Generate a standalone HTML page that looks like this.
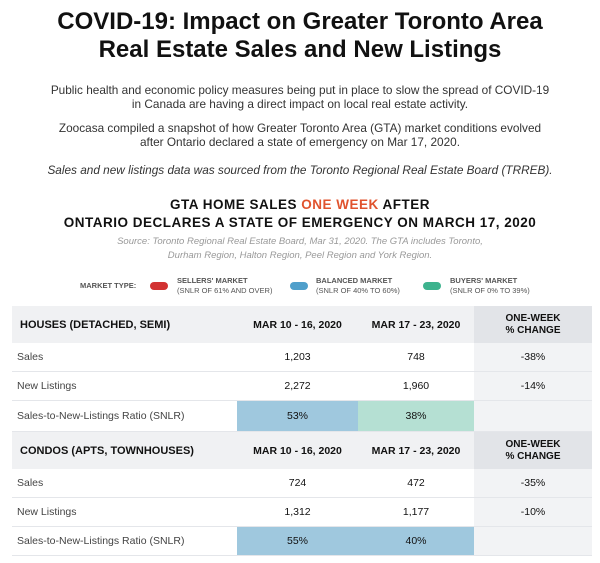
<!DOCTYPE html>
<html><head><meta charset="utf-8"><style>
body{margin:0;width:600px;height:563px;background:#fff;font-family:"Liberation Sans",sans-serif;color:#222;position:relative;overflow:hidden}
.a{position:absolute;left:0;width:600px;text-align:center;white-space:nowrap}
.t{font-weight:bold;font-size:24px;color:#111}
.p{font-size:11.8px;color:#333}
.s{font-weight:bold;font-size:13.5px;color:#111;letter-spacing:0.5px}
.src{font-size:9.5px;color:#999;font-style:italic}
.lg{position:absolute;font-size:7.5px;color:#555;line-height:10px}
.pill{position:absolute;width:18px;height:8px;border-radius:4px}
table{position:absolute;left:12px;top:306px;width:580px;border-collapse:collapse;font-size:10.5px}
td{padding:0;height:28px;border-bottom:1px solid #e4e6ea;text-align:center;color:#111}
td:first-child{text-align:left;padding-left:5px;color:#444}
td:last-child{background:#f2f3f5}
tr.h td{background:#f0f1f3;font-weight:bold;height:37px;font-size:10.5px;border:none}
tr.h td:first-child{color:#111;padding-left:8px;font-size:11px}
tr.h td:last-child{background:#e2e4e8;font-size:10px;line-height:12px}
.b{background:#9fc8de!important}.g{background:#b5e0d3!important}
</style></head><body>
<div class="a t" style="top:8px">COVID-19: Impact on Greater Toronto Area</div>
<div class="a t" style="top:36px">Real Estate Sales and New Listings</div>
<div class="a p" style="top:83px">Public health and economic policy measures being put in place to slow the spread of COVID-19</div>
<div class="a p" style="top:97px">in Canada are having a direct impact on local real estate activity.</div>
<div class="a p" style="top:121px">Zoocasa compiled a snapshot of how Greater Toronto Area (GTA) market conditions evolved</div>
<div class="a p" style="top:135px">after Ontario declared a state of emergency on Mar 17, 2020.</div>
<div class="a p" style="top:163px;font-style:italic">Sales and new listings data was sourced from the Toronto Regional Real Estate Board (TRREB).</div>
<div class="a s" style="top:197px">GTA HOME SALES <span style="color:#e0532e">ONE WEEK</span> AFTER</div>
<div class="a s" style="top:215px">ONTARIO DECLARES A STATE OF EMERGENCY ON MARCH 17, 2020</div>
<div class="a src" style="top:236px">Source: Toronto Regional Real Estate Board, Mar 31, 2020. The GTA includes Toronto,</div>
<div class="a src" style="top:250px">Durham Region, Halton Region, Peel Region and York Region.</div>
<div class="lg" style="left:80px;top:281px;font-weight:bold">MARKET TYPE:</div>
<div class="pill" style="left:150px;top:282px;background:#d23232"></div>
<div class="lg" style="left:177px;top:276px"><b>SELLERS' MARKET</b><br>(SNLR OF 61% AND OVER)</div>
<div class="pill" style="left:290px;top:282px;background:#4f9fcb"></div>
<div class="lg" style="left:316px;top:276px"><b>BALANCED MARKET</b><br>(SNLR OF 40% TO 60%)</div>
<div class="pill" style="left:423px;top:282px;background:#3db38e"></div>
<div class="lg" style="left:450px;top:276px"><b>BUYERS' MARKET</b><br>(SNLR OF 0% TO 39%)</div>
<table>
<colgroup><col style="width:225px"><col style="width:121px"><col style="width:116px"><col style="width:118px"></colgroup>
<tr class="h"><td>HOUSES (DETACHED, SEMI)</td><td>MAR 10 - 16, 2020</td><td>MAR 17 - 23, 2020</td><td>ONE-WEEK<br>% CHANGE</td></tr>
<tr><td>Sales</td><td>1,203</td><td>748</td><td>-38%</td></tr>
<tr><td>New Listings</td><td>2,272</td><td>1,960</td><td>-14%</td></tr>
<tr><td style="height:30px">Sales-to-New-Listings Ratio (SNLR)</td><td class="b">53%</td><td class="g">38%</td><td></td></tr>
<tr class="h"><td>CONDOS (APTS, TOWNHOUSES)</td><td>MAR 10 - 16, 2020</td><td>MAR 17 - 23, 2020</td><td>ONE-WEEK<br>% CHANGE</td></tr>
<tr><td>Sales</td><td>724</td><td>472</td><td>-35%</td></tr>
<tr><td>New Listings</td><td>1,312</td><td>1,177</td><td>-10%</td></tr>
<tr><td>Sales-to-New-Listings Ratio (SNLR)</td><td class="b">55%</td><td class="b">40%</td><td></td></tr>
</table>
</body></html>
